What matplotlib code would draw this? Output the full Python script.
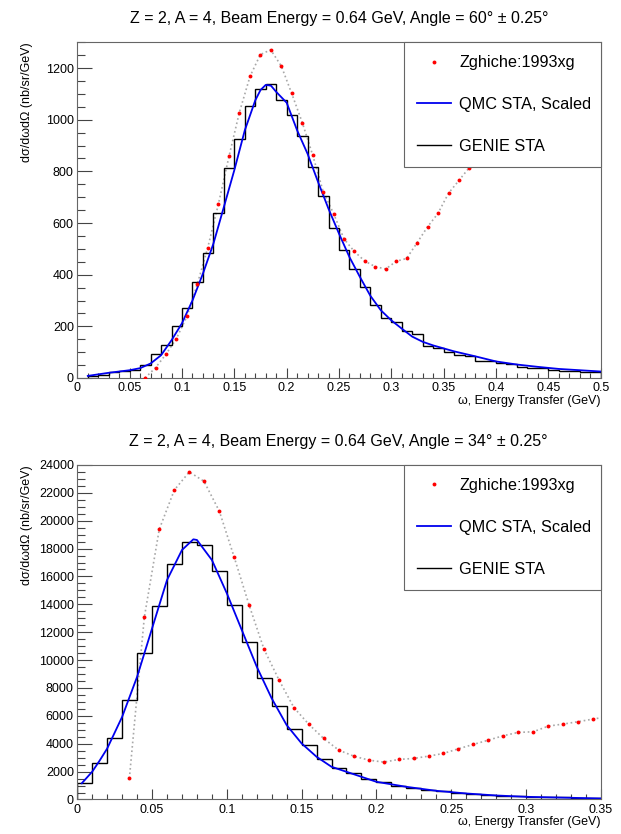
import numpy as np
import matplotlib
matplotlib.use("Agg")
import matplotlib.pyplot as plt
from matplotlib.ticker import MultipleLocator, FormatStrFormatter

plt.rcParams['font.family'] = ['Liberation Sans', 'DejaVu Sans']

# ---------------- 60 deg data ----------------
hist60_edges = np.round(np.arange(0.01, 0.5001, 0.01), 3)
hist60_vals = [8, 12, 24, 27, 30, 50, 93, 129, 201, 271,
               372, 484, 637, 813, 924, 1055, 1119, 1139, 1077, 1017,
               938, 818, 703, 579, 497, 422, 354, 284, 234, 217,
               181, 172, 125, 116, 101, 88, 85, 67, 65, 58,
               55, 43, 40, 37, 32, 27, 27, 25, 25]

qmc60_w = [0.01, 0.03, 0.05, 0.06, 0.07, 0.08, 0.09, 0.10, 0.11, 0.12, 0.13, 0.14,
           0.15, 0.16, 0.17, 0.175, 0.18, 0.185, 0.19, 0.20, 0.21, 0.22, 0.23, 0.24,
           0.25, 0.26, 0.27, 0.28, 0.29, 0.30, 0.31, 0.32, 0.33, 0.34, 0.36, 0.38,
           0.40, 0.42, 0.44, 0.46, 0.48, 0.50]
qmc60_v = [8, 20, 30, 38, 56, 88, 146, 212, 300, 404, 520, 662,
           805, 959, 1075, 1115, 1135, 1132, 1108, 1066, 959, 868, 759, 655,
           559, 468, 391, 318, 262, 223, 191, 160, 140, 126, 103, 84,
           64, 52, 43, 35, 30, 25]

data60_w = [0.0647, 0.0748, 0.0847, 0.0946, 0.1048, 0.1146, 0.1245, 0.1347, 0.1449,
            0.1548, 0.1650, 0.1748, 0.1847, 0.1949, 0.2048, 0.2150, 0.2248, 0.2350,
            0.2449, 0.2547, 0.2646, 0.2748, 0.2847, 0.2946, 0.3048, 0.3146, 0.3245,
            0.3347, 0.3445, 0.3547, 0.3646, 0.3745, 0.3845]
data60_v = [0, 40, 92, 152, 239, 363, 503, 672, 858,
            1028, 1168, 1252, 1271, 1208, 1102, 988, 864, 720,
            636, 539, 490, 452, 431, 422, 452, 463, 523,
            586, 637, 716, 765, 815, 870]

# ---------------- 34 deg data ----------------
hist34_edges = np.round(np.arange(0.0, 0.3501, 0.01), 3)
hist34_vals = [1205, 2597, 4379, 7107, 10481, 13903, 16871, 18450, 18259, 16392,
               13975, 11271, 8734, 6724, 5025, 3925, 2896, 2225, 1867, 1460,
               1220, 981, 838, 670, 574, 479, 383, 311, 263, 239,
               191, 168, 144, 120, 96]

qmc34_w = [0.003, 0.01, 0.015, 0.02, 0.03, 0.04, 0.05, 0.06, 0.07, 0.0776, 0.08, 0.09,
           0.10, 0.11, 0.12, 0.13, 0.14, 0.15, 0.16, 0.17, 0.18, 0.19, 0.20, 0.22,
           0.24, 0.26, 0.28, 0.30, 0.32, 0.35]
qmc34_v = [1162, 2000, 2800, 3661, 5935, 8806, 12276, 15746, 17900, 18665, 18617, 17181,
           14789, 12156, 9524, 7251, 5336, 4020, 3063, 2345, 1986, 1627, 1268, 909,
           622, 431, 287, 191, 144, 72]

data34_w = [0.0348, 0.0448, 0.0548, 0.0649, 0.0749, 0.0847, 0.0950, 0.1048, 0.1148,
            0.1248, 0.1349, 0.1449, 0.1549, 0.1647, 0.1748, 0.1848, 0.1949, 0.2049,
            0.2149, 0.2249, 0.2350, 0.2448, 0.2548, 0.2648, 0.2749, 0.2847, 0.2947,
            0.3049, 0.3150, 0.3248, 0.3346, 0.3449, 0.3549]
data34_v = [1508, 13066, 19383, 22207, 23499, 22829, 20676, 17421, 13975,
            10792, 8567, 6581, 5384, 4379, 3542, 3111, 2824, 2680,
            2872, 2943, 3111, 3302, 3637, 3948, 4259, 4570, 4810,
            4858, 5265, 5408, 5576, 5767, 5950]

titles = ['Z = 2, A = 4, Beam Energy = 0.64 GeV, Angle = 60\u00b0 \u00b1 0.25\u00b0',
          'Z = 2, A = 4, Beam Energy = 0.64 GeV, Angle = 34\u00b0 \u00b1 0.25\u00b0']

fig = plt.figure(figsize=(6.21, 8.34), dpi=100)
ax1 = fig.add_axes([0.1245, 0.5468, 0.8428, 0.4025])
ax2 = fig.add_axes([0.1245, 0.0414, 0.8428, 0.4011])


def draw(ax, edges, hvals, qw, qv, dw, dv, xmax, ymax, ymaj, ymin, title, title_y):
    ax.plot(dw, dv, ls=':', color='#a8a8a8', lw=1.2, zorder=1)
    ax.plot(dw, dv, 'o', color='red', ms=2.8, mec='none', zorder=4,
            label='Zghiche:1993xg')
    ax.plot(qw, qv, color='#0000ee', lw=1.3, zorder=3, label='QMC STA, Scaled')
    ax.stairs(hvals, edges, color='black', lw=1.0, zorder=2, label='GENIE STA')

    ax.set_xlim(0, xmax)
    ax.set_ylim(0, ymax)
    ax.xaxis.set_major_locator(MultipleLocator(0.05))
    ax.xaxis.set_minor_locator(MultipleLocator(0.01))
    ax.xaxis.set_major_formatter(FormatStrFormatter('%g'))
    ax.yaxis.set_major_locator(MultipleLocator(ymaj))
    ax.yaxis.set_minor_locator(MultipleLocator(ymin))
    ax.tick_params(axis='both', which='both', direction='in', labelsize=9,
                   color='#444444', width=0.8)
    ax.tick_params(axis='x', which='major', length=7, pad=3)
    ax.tick_params(axis='x', which='minor', length=3.5)
    ax.tick_params(axis='y', which='major', length=11, pad=2.5)
    ax.tick_params(axis='y', which='minor', length=5.5)
    for s in ax.spines.values():
        s.set_color('#666666')
        s.set_linewidth(0.8)

    ax.set_xlabel('\u03c9, Energy Transfer (GeV)', fontsize=9, loc='right')
    ax.xaxis.set_label_coords(1.0, -0.05)
    ax.set_ylabel('d\u03c3/d\u03c9d\u03a9 (nb/sr/GeV)', fontsize=9, loc='top')
    ax.yaxis.set_label_coords(-0.085, 1.0)

    fig.text(0.5455, title_y, title, ha='center', va='center', fontsize=11.5)

    leg = ax.legend(loc='upper right', bbox_to_anchor=(0.624, 0.0, 0.376, 1.0),
                    mode='expand', borderaxespad=0, fontsize=11.7, frameon=True,
                    fancybox=False, framealpha=1, edgecolor='#666666',
                    borderpad=0.8, labelspacing=1.65, handlelength=2.1,
                    handletextpad=0.5)
    leg.get_frame().set_linewidth(0.8)
    leg.set_zorder(10)


draw(ax1, hist60_edges, hist60_vals, qmc60_w, qmc60_v, data60_w, data60_v,
     0.5, 1300, 200, 50, titles[0], 1 - 18 / 834)
draw(ax2, hist34_edges, hist34_vals, qmc34_w, qmc34_v, data34_w, data34_v,
     0.35, 24000, 2000, 500, titles[1], 1 - 441 / 834)

fig.savefig('out.png', dpi=100)
